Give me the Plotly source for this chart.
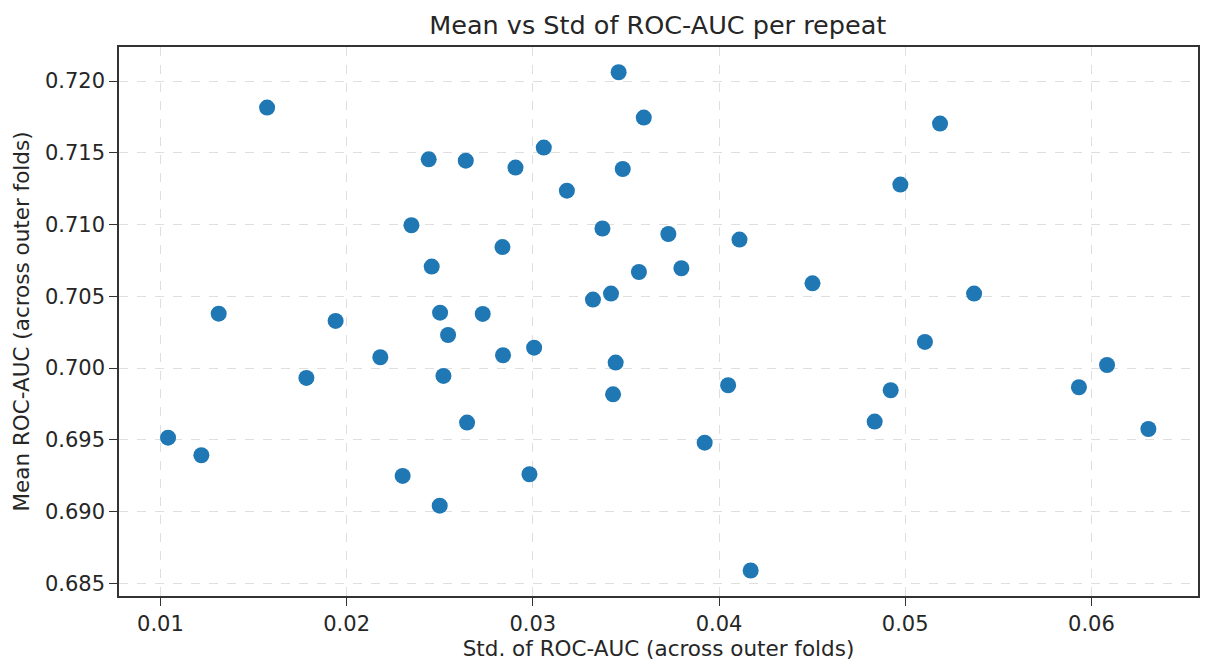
import plotly.graph_objects as go

std_auc = [0.01573, 0.01313, 0.01941, 0.01041, 0.01220, 0.01784, 0.02181, 0.02441, 0.02640, 0.02907,
           0.03059, 0.03461, 0.03596, 0.03483, 0.03183, 0.02348, 0.03374, 0.03728, 0.04110, 0.02837,
           0.02457, 0.03570, 0.03798, 0.04502, 0.03323, 0.03420, 0.02502, 0.02731, 0.02545, 0.05187,
           0.04974, 0.05370, 0.02840, 0.03007, 0.02520, 0.03445, 0.03431, 0.04049, 0.02647, 0.03923,
           0.02301, 0.02982, 0.02500, 0.04170, 0.05106, 0.04922, 0.04836, 0.05933, 0.06084, 0.06306]
mean_auc = [0.71815, 0.70379, 0.70328, 0.69515, 0.69392, 0.69931, 0.70075, 0.71454, 0.71445, 0.71397,
            0.71536, 0.72061, 0.71745, 0.71387, 0.71236, 0.70995, 0.70972, 0.70934, 0.70895, 0.70843,
            0.70707, 0.70669, 0.70695, 0.70590, 0.70477, 0.70519, 0.70386, 0.70377, 0.70230, 0.71703,
            0.71278, 0.70519, 0.70089, 0.70142, 0.69945, 0.70038, 0.69817, 0.69880, 0.69620, 0.69480,
            0.69248, 0.69260, 0.69041, 0.68589, 0.70182, 0.69845, 0.69627, 0.69866, 0.70021, 0.69575]

x_ticks = [0.01, 0.02, 0.03, 0.04, 0.05, 0.06]
x_ticklabels = ["0.01", "0.02", "0.03", "0.04", "0.05", "0.06"]
y_ticks = [0.685, 0.690, 0.695, 0.700, 0.705, 0.710, 0.715, 0.720]
y_ticklabels = ["0.685", "0.690", "0.695", "0.700", "0.705", "0.710", "0.715", "0.720"]

FONT = "DejaVu Sans"
fig = go.Figure()
fig.add_trace(go.Scatter(
    x=std_auc, y=mean_auc, mode="markers",
    marker=dict(size=16, color="#1f77b4", line=dict(width=0)),
    showlegend=False,
))

grid = "rgba(176,176,176,0.4)"
axis_common = dict(
    showline=True, linecolor="#333333", linewidth=1.5, mirror=True,
    ticks="outside", ticklen=8, tickwidth=1.3, tickcolor="#333333",
    showgrid=True, gridcolor=grid, griddash="dash", gridwidth=1,
    zeroline=False, tickfont=dict(family=FONT, size=21, color="#262626"),
)

fig.update_layout(
    width=1217, height=669,
    margin=dict(l=119, r=19, t=47, b=73),
    paper_bgcolor="white", plot_bgcolor="white",
    title=dict(text="Mean vs Std of ROC-AUC per repeat", x=0.5405, xanchor="center",
               y=1 - 25 / 669, yanchor="middle", yref="container",
               font=dict(family=FONT, size=25.5, color="#262626")),
    xaxis=dict(range=[0.007776, 0.065725], tickvals=x_ticks, ticktext=x_ticklabels,
               title=dict(text="Std. of ROC-AUC (across outer folds)",
                          font=dict(family=FONT, size=21.5, color="#262626"), standoff=6),
               **axis_common),
    yaxis=dict(range=[0.684115, 0.722369], tickvals=y_ticks, ticktext=y_ticklabels,
               title=dict(text="Mean ROC-AUC (across outer folds)",
                          font=dict(family=FONT, size=21.5, color="#262626"), standoff=9),
               **axis_common),
)

fig.write_html("out.html")
